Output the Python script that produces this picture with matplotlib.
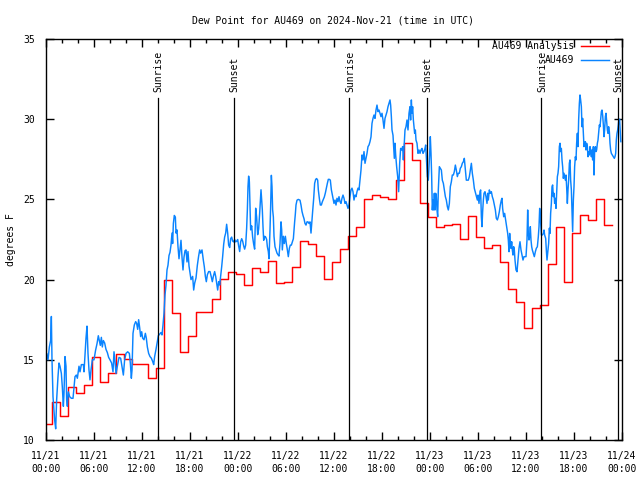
import numpy as np
import matplotlib
matplotlib.use("Agg")
import matplotlib.pyplot as plt
from matplotlib.ticker import MultipleLocator

plt.rcParams['font.family'] = ['DejaVu Sans Mono']
plt.rcParams['font.size'] = 7

# hourly analysis (step starts ~0.3 h before each hour)
red_vals = [11.0, 12.4, 11.5, 13.3, 12.9, 13.4, 15.15, 13.6, 14.2, 15.35,
            15.03, 14.74, 14.74, 13.85, 14.47, 20.0, 17.9, 15.5, 16.5, 18.0,
            18.0, 18.8, 20.05, 20.5, 20.35, 19.66, 20.72, 20.5, 21.16, 19.8,
            19.87, 20.77, 22.4, 22.2, 21.47, 20.06, 21.08, 21.9, 22.74, 23.3,
            25.0, 25.25, 25.15, 25.05, 26.2, 28.5, 27.46, 24.75, 23.9, 23.3,
            23.38, 23.45, 22.53, 23.97, 22.68, 21.95, 22.13, 21.12, 19.4, 18.58,
            16.96, 18.2, 18.4, 20.95, 23.28, 19.83, 22.9, 24.0, 23.7, 25.0, 23.4]

# station observations: (hours since 11/21 00:00 UTC, deg F)
obs = [
    (0.0, 15.3), (0.08, 15.4), (0.25, 15.0), (0.42, 15.8), (0.58, 16.2), (0.67, 17.7), (0.75, 15.0),
    (0.875, 12.7), (1.08, 11.25), (1.21, 10.7), (1.33, 12.5), (1.5, 13.95), (1.625, 14.8), (1.75, 14.6),
    (1.92, 14.15), (2.04, 13.3), (2.17, 12.1), (2.25, 12.9), (2.375, 15.2), (2.5, 14.6), (2.58, 12.5),
    (2.67, 12.1), (2.79, 13.0), (2.96, 12.7), (3.17, 12.6), (3.375, 12.6), (3.5, 13.3), (3.625, 13.95),
    (3.79, 14.05), (3.92, 13.85), (4.125, 14.6), (4.25, 14.25), (4.42, 14.7), (4.67, 14.7), (4.75, 14.25),
    (4.875, 15.3), (5.0, 16.35), (5.125, 17.1), (5.25, 15.4), (5.375, 14.35), (5.5, 13.75), (5.625, 14.35),
    (5.79, 15.0), (6.0, 15.0), (6.2, 15.6), (6.375, 16.0), (6.54, 16.5), (6.67, 16.2), (6.79, 15.9),
    (6.92, 16.4), (7.04, 15.8), (7.17, 16.2), (7.33, 16.05), (7.5, 15.65), (7.67, 15.45), (7.83, 15.15),
    (8.0, 15.0), (8.2, 14.8), (8.375, 14.25), (8.5, 15.5), (8.625, 14.9), (8.75, 14.15), (8.92, 14.6),
    (9.125, 15.15),
    (9.33, 15.1), (9.5, 14.57), (9.67, 14.05), (9.83, 15.0), (10.0, 15.4), (10.21, 15.5), (10.42, 15.4),
    (10.54, 14.8), (10.67, 13.85), (10.75, 14.35), (10.875, 16.65), (11.04, 17.17), (11.21, 17.38),
    (11.33, 17.27), (11.46, 16.9), (11.58, 17.5), (11.71, 17.0), (11.83, 16.45), (11.96, 16.75),
    (12.08, 16.35), (12.25, 16.25), (12.42, 16.65), (12.54, 16.35), (12.67, 15.8), (12.83, 15.4),
    (13.0, 15.2), (13.17, 15.1), (13.33, 14.9), (13.46, 14.7), (13.58, 15.2), (13.75, 15.65),
    (13.92, 16.15), (14.04, 16.5), (14.21, 16.6), (14.375, 16.7), (14.5, 16.55), (14.625, 17.17),
    (14.75, 17.9), (14.875, 19.05), (15.0, 19.65), (15.125, 20.6), (15.25, 20.9), (15.375, 21.5),
    (15.5, 21.7), (15.625, 22.15), (15.75, 22.9), (15.83, 22.25), (15.92, 23.5), (16.04, 24.0),
    (16.17, 23.9), (16.25, 22.9), (16.375, 23.1), (16.5, 22.05), (16.625, 21.3), (16.75, 21.85),
    (16.875, 22.45), (17.0, 21.4), (17.125, 20.6), (17.25, 21.4), (17.375, 21.8), (17.5, 21.85),
    (17.625, 21.1), (17.75, 21.75), (17.875, 20.85), (18.0, 20.4), (18.125, 20.0),
    (18.33, 20.2), (18.46, 19.35), (18.58, 19.77), (18.75, 20.1), (18.92, 20.9), (19.08, 21.47),
    (19.21, 21.85), (19.33, 21.65), (19.5, 21.85), (19.67, 21.2), (19.79, 20.8), (19.92, 20.2),
    (20.04, 19.87), (20.17, 20.3), (20.33, 20.5), (20.5, 20.5), (20.67, 20.15), (20.79, 19.87),
    (20.92, 20.2), (21.08, 20.5), (21.21, 20.2), (21.33, 19.77), (21.46, 19.35), (21.58, 19.87),
    (21.71, 19.66), (21.83, 20.2), (21.96, 20.8), (22.08, 21.43), (22.21, 22.2), (22.33, 22.65),
    (22.46, 22.9), (22.58, 23.45), (22.71, 22.9), (22.83, 22.15), (22.96, 22.0), (23.08, 22.55),
    (23.21, 22.65), (23.33, 22.4), (23.46, 22.35), (23.58, 22.5), (23.71, 22.35), (23.83, 22.4),
    (23.96, 22.5), (24.08, 22.1), (24.21, 21.75), (24.33, 22.35), (24.46, 22.55), (24.58, 22.4),
    (24.71, 22.1), (24.83, 21.9), (24.96, 22.15), (25.08, 23.2), (25.17, 24.35), (25.25, 25.8),
    (25.33, 26.45), (25.42, 26.1), (25.5, 24.65), (25.58, 23.1), (25.71, 23.35), (25.83, 22.65),
    (25.96, 22.2), (26.08, 21.9), (26.21, 24.45), (26.33, 23.9), (26.46, 22.8), (26.58, 23.15),
    (26.71, 24.15),
    (26.875, 25.6), (26.96, 24.95), (27.04, 24.35), (27.125, 23.3), (27.21, 22.45), (27.33, 22.7),
    (27.46, 22.65), (27.58, 22.5), (27.67, 22.05), (27.79, 21.75), (27.875, 21.3), (28.0, 23.1),
    (28.08, 24.55), (28.17, 26.5), (28.25, 25.8), (28.33, 24.35), (28.42, 23.9), (28.5, 22.7),
    (28.625, 22.05), (28.75, 21.85), (28.875, 21.65), (29.0, 21.55), (29.125, 21.47), (29.25, 22.25),
    (29.375, 23.6), (29.46, 23.1), (29.54, 21.85), (29.67, 22.7), (29.79, 22.25), (29.92, 22.7),
    (30.04, 22.25), (30.17, 21.85), (30.29, 21.43), (30.42, 21.95), (30.54, 22.15), (30.67, 22.15),
    (30.79, 22.35), (30.92, 22.55), (31.0, 23.1), (31.08, 23.6), (31.17, 24.1), (31.25, 24.65),
    (31.375, 24.95), (31.54, 25.0), (31.75, 24.95), (31.875, 24.65), (32.0, 24.25), (32.125, 24.0),
    (32.25, 23.8), (32.375, 23.5), (32.5, 23.4), (32.625, 23.6), (32.75, 23.6), (32.875, 23.5),
    (33.0, 23.6), (33.125, 22.9), (33.21, 23.5), (33.33, 24.25), (33.46, 25.05), (33.58, 26.0),
    (33.71, 26.25), (33.83, 26.3), (33.96, 26.2), (34.04, 25.6), (34.17, 25.05), (34.29, 24.65),
    (34.42, 24.65), (34.54, 24.85), (34.67, 25.0), (34.79, 25.15), (34.92, 25.4), (35.04, 25.7),
    (35.17, 26.0), (35.29, 26.25), (35.42, 26.25), (35.54, 26.2), (35.67, 25.6),
    (35.875, 25.07), (36.0, 24.75), (36.125, 24.96), (36.25, 24.65), (36.375, 25.07), (36.5, 24.86),
    (36.625, 25.17), (36.75, 24.86), (36.875, 24.75), (37.0, 25.07), (37.125, 25.27), (37.25, 25.07),
    (37.375, 24.75), (37.5, 24.86), (37.625, 24.65), (37.75, 24.44), (37.875, 24.65), (38.0, 25.17),
    (38.125, 25.59), (38.25, 25.7), (38.375, 25.48), (38.5, 24.96), (38.625, 25.27), (38.75, 25.17),
    (38.875, 25.48), (39.0, 25.7), (39.125, 25.59), (39.25, 26.2), (39.375, 26.83), (39.5, 27.77),
    (39.625, 27.46), (39.75, 27.98), (39.875, 27.25), (40.0, 27.56), (40.125, 27.87), (40.25, 28.29),
    (40.375, 28.39), (40.5, 28.6), (40.625, 28.9), (40.75, 29.74), (40.875, 30.05), (41.0, 30.26),
    (41.125, 30.05), (41.25, 30.57), (41.375, 30.88), (41.5, 30.47), (41.625, 30.57), (41.75, 30.37),
    (41.875, 30.16), (42.0, 30.37), (42.125, 29.95), (42.25, 29.43), (42.375, 30.05), (42.5, 30.26),
    (42.625, 30.47), (42.75, 30.78), (42.875, 30.99), (43.0, 31.2), (43.08, 30.88), (43.17, 30.16),
    (43.25, 29.33), (43.375, 29.0), (43.46, 28.29), (43.54, 27.56), (43.625, 28.5), (43.71, 27.77),
    (43.83, 27.04), (43.96, 26.42), (44.08, 25.48), (44.21, 27.25), (44.33, 28.18), (44.46, 28.08),
    (44.58, 28.29), (44.67, 27.46),
    (44.875, 29.33), (45.0, 29.53), (45.125, 29.95), (45.25, 29.33), (45.375, 30.37), (45.5, 30.78),
    (45.58, 29.95), (45.67, 31.2), (45.75, 30.37), (45.83, 30.78), (45.92, 29.95), (46.0, 29.53),
    (46.08, 29.12), (46.17, 29.33), (46.25, 28.7), (46.375, 28.5), (46.5, 27.87), (46.625, 28.08),
    (46.75, 27.87), (46.875, 28.08), (47.0, 28.18), (47.125, 27.87), (47.25, 27.98), (47.375, 28.18),
    (47.46, 28.39), (47.54, 27.66), (47.58, 27.25), (47.67, 26.42), (47.79, 26.2), (47.875, 27.04),
    (47.96, 27.87), (48.04, 28.91), (48.125, 27.87), (48.21, 26.42), (48.29, 24.34), (48.375, 24.96),
    (48.46, 24.34), (48.54, 25.38), (48.625, 24.34), (48.71, 25.38), (48.79, 25.17), (48.875, 24.34),
    (48.96, 23.92), (49.04, 25.59), (49.17, 27.04), (49.29, 26.94), (49.42, 26.83), (49.54, 26.2),
    (49.67, 26.0), (49.79, 25.59), (49.92, 25.17), (50.04, 24.96), (50.17, 24.55), (50.29, 24.34),
    (50.42, 24.75), (50.54, 25.79), (50.67, 26.1), (50.79, 26.52), (50.92, 26.52), (51.04, 26.73),
    (51.17, 27.14), (51.29, 26.83), (51.42, 26.42), (51.54, 26.63), (51.67, 26.63), (51.79, 26.94),
    (51.92, 27.04), (52.04, 27.25), (52.17, 27.35), (52.29, 27.56), (52.42, 26.83), (52.54, 26.2),
    (52.67, 26.2), (52.79, 26.2), (52.92, 26.42), (53.04, 26.83), (53.17, 27.25), (53.29, 26.63),
    (53.42, 26.2), (53.54, 25.69),
    (53.92, 24.96), (54.0, 25.27), (54.125, 24.75), (54.25, 25.48), (54.33, 25.59), (54.42, 23.92),
    (54.5, 23.3), (54.58, 24.24), (54.67, 24.96), (54.75, 25.38), (54.875, 25.48), (55.0, 25.17),
    (55.125, 24.75), (55.21, 25.38), (55.29, 24.96), (55.42, 25.59), (55.54, 25.38), (55.67, 25.48),
    (55.79, 25.17), (55.92, 24.96), (56.04, 24.65), (56.17, 24.34), (56.29, 23.82), (56.42, 23.72),
    (56.54, 23.92), (56.67, 24.24), (56.79, 24.65), (56.92, 24.96), (57.0, 25.07), (57.08, 24.44),
    (57.21, 23.92), (57.33, 24.13), (57.46, 23.72), (57.58, 23.3), (57.71, 22.88), (57.79, 22.47),
    (57.875, 21.74), (57.96, 22.88), (58.04, 22.16), (58.125, 21.95), (58.21, 22.36), (58.29, 21.85),
    (58.375, 21.53), (58.46, 22.05), (58.54, 21.85), (58.625, 21.22), (58.75, 20.6), (58.875, 20.49),
    (58.96, 21.01), (59.04, 21.43), (59.125, 21.95), (59.25, 22.36), (59.375, 21.85), (59.5, 21.53),
    (59.625, 21.22), (59.75, 21.43), (59.875, 21.43), (60.0, 21.43), (60.125, 22.47), (60.21, 24.34),
    (60.29, 22.88), (60.375, 22.47), (60.46, 22.68), (60.54, 23.3), (60.625, 22.47), (60.71, 22.05),
    (60.79, 21.85), (60.92, 21.64), (61.04, 21.43), (61.17, 21.74), (61.29, 21.95), (61.42, 22.05),
    (61.54, 22.68), (61.625, 23.3), (61.71, 24.44), (61.79, 23.92), (61.92, 22.78), (62.04, 22.78),
    (62.17, 22.88), (62.25, 23.09), (62.33, 22.78), (62.46, 22.57), (62.54, 21.85), (62.625, 21.22),
    (62.83, 22.26), (62.92, 23.2), (63.0, 22.88), (63.08, 24.13), (63.17, 24.75), (63.25, 25.79),
    (63.33, 25.9), (63.42, 25.17), (63.5, 25.38), (63.58, 24.75), (63.67, 25.07), (63.75, 24.44),
    (63.83, 25.38), (63.92, 26.42), (64.0, 26.63), (64.08, 27.04), (64.17, 28.29), (64.25, 28.5),
    (64.33, 27.98), (64.42, 28.18), (64.5, 27.46), (64.58, 27.04), (64.67, 26.31), (64.75, 26.63),
    (64.83, 26.42), (64.92, 26.2), (65.0, 26.52), (65.08, 25.79), (65.17, 24.75), (65.25, 25.59),
    (65.33, 26.2), (65.42, 27.25), (65.5, 27.46), (65.58, 26.2), (65.67, 25.59), (65.75, 24.24),
    (65.83, 22.99), (65.92, 24.96), (66.0, 25.79), (66.08, 27.04), (66.17, 27.66), (66.25, 27.46),
    (66.33, 28.5), (66.42, 29.12), (66.5, 28.29), (66.58, 29.95), (66.67, 30.99), (66.75, 31.51),
    (66.83, 31.2), (66.92, 30.78), (67.0, 29.53), (67.08, 30.05), (67.17, 29.12), (67.25, 28.29),
    (67.33, 28.5), (67.42, 28.6), (67.5, 28.08), (67.58, 28.5), (67.67, 28.29), (67.75, 27.66),
    (67.83, 27.98), (67.92, 27.77), (68.0, 28.29), (68.08, 28.08), (68.17, 27.66), (68.25, 28.08),
    (68.33, 27.46), (68.42, 28.29), (68.5, 26.52), (68.58, 28.08), (68.67, 28.29), (68.75, 27.98),
    (68.83, 28.08), (68.92, 28.5), (69.0, 28.7), (69.08, 29.12), (69.17, 29.64), (69.25, 29.53),
    (69.33, 29.95), (69.42, 30.47), (69.5, 30.57), (69.58, 30.26), (69.67, 29.64), (69.75, 28.91),
    (69.83, 29.33), (69.92, 30.16), (70.0, 30.37), (70.08, 29.85), (70.17, 29.33), (70.25, 29.12),
    (70.33, 29.53), (70.42, 29.22), (70.5, 28.5), (70.58, 28.08), (70.67, 27.87), (70.79, 27.77),
    (70.92, 27.66), (71.04, 27.56), (71.125, 27.66), (71.21, 27.87), (71.29, 28.7), (71.375, 29.12),
    (71.46, 29.33), (71.54, 29.64), (71.58, 29.85), (71.7, 30.0), (71.85, 28.6),
]

sun_events = ['Sunrise', 'Sunset', 'Sunrise', 'Sunset', 'Sunrise', 'Sunset']
sun_hours = [13.95, 23.5, 37.9, 47.6, 61.9, 71.5]

xtick_labels = ['11/21\n00:00', '11/21\n06:00', '11/21\n12:00', '11/21\n18:00',
                '11/22\n00:00', '11/22\n06:00', '11/22\n12:00', '11/22\n18:00',
                '11/23\n00:00', '11/23\n06:00', '11/23\n12:00', '11/23\n18:00',
                '11/24\n00:00']

obs = np.array(obs)
red_hours = np.arange(len(red_vals) + 1) - 0.3
red_y = np.append(red_vals, red_vals[-1])

fig = plt.figure(figsize=(6.4, 4.8), dpi=100)
ax = fig.add_axes([46 / 640, 40 / 480, 576 / 640, 401 / 480])

ax.plot(red_hours, red_y, drawstyle='steps-post', color='#ff0000', lw=1.05,
        label='AU469 Analysis')
ax.plot(obs[:, 0], obs[:, 1], color='#0a84ff', lw=1.05, label='AU469')

for h, name in zip(sun_hours, sun_events):
    ax.plot([h, h], [10, 31.3], color='black', lw=0.9, zorder=3)
    ax.text(h + 0.1, 31.7, name, rotation=90, ha='center', va='bottom')

ax.set_xlim(0, 72)
ax.set_ylim(10, 35)
ax.set_xticks(np.arange(0, 73, 6))
ax.set_xticklabels(xtick_labels, linespacing=1.35)
ax.xaxis.set_minor_locator(MultipleLocator(2))
ax.set_yticks(np.arange(10, 36, 5))
ax.tick_params(which='both', direction='in', top=True, right=True)
ax.tick_params(which='major', length=6, width=1)
ax.tick_params(which='minor', length=3, width=1)
ax.tick_params(axis='x', pad=8)
ax.tick_params(axis='y', pad=8)
for s in ax.spines.values():
    s.set_linewidth(1.0)

ax.legend(loc='upper right', bbox_to_anchor=(0.977, 0.995), frameon=False,
          markerfirst=False, handlelength=2.9, handletextpad=0.7,
          labelspacing=0.45, borderpad=0, borderaxespad=0)

fig.text(0.52, 0.958, 'Dew Point for AU469 on 2024-Nov-21 (time in UTC)',
         ha='center', va='center')
fig.text(0.017, 0.5, 'degrees F', rotation=90, ha='center', va='center')

fig.savefig('out.png', dpi=100)
